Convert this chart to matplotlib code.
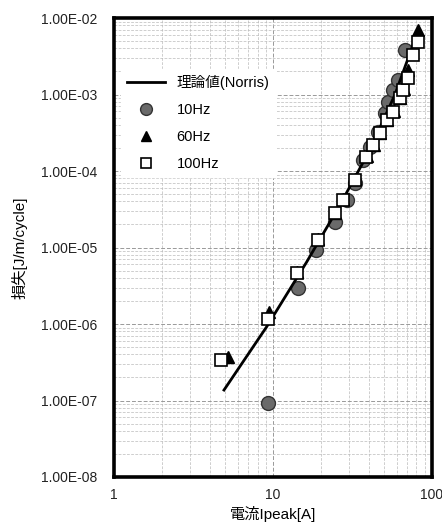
import matplotlib.pyplot as plt
import matplotlib.ticker as ticker

# DATA ##########################################

# theory line (Norris)
norris_i = [4.92, 9.13, 16.3, 26.4, 40.7, 58.5, 78.2]
norris_q = [1.37e-7, 9.2e-7, 6.46e-6, 3.6e-5, 1.88e-4, 9.9e-4, 5.2e-3]

# 10Hz
i_10 = [9.27, 14.3, 18.8, 24.5, 29.1, 32.8, 37.0, 40.7, 45.9, 50.6, 53.1, 57.1, 61.4, 67.6]
q_10 = [9.35e-8, 2.93e-6, 9.3e-6, 2.17e-5, 4.18e-5, 6.9e-5, 1.39e-4, 2.08e-4,
        3.26e-4, 5.68e-4, 8.05e-4, 1.15e-3, 1.55e-3, 3.82e-3]

# 60Hz
i_60 = [5.24, 9.5, 14.2, 19.2, 24.6, 27.8, 33.0, 39.0, 43.0, 47.4, 52.2, 57.5, 63.3, 66.4, 71.0, 82.0]
q_60 = [3.7e-7, 1.45e-6, 4.8e-6, 1.28e-5, 2.85e-5, 4.25e-5, 7.8e-5, 1.56e-4,
        2.2e-4, 3.15e-4, 4.7e-4, 6.0e-4, 9.0e-4, 1.17e-3, 2.09e-3, 6.97e-3]

# 100Hz
i_100 = [4.71, 9.27, 14.1, 19.3, 24.5, 27.7, 32.8, 38.8, 42.7, 47.1, 51.9, 57.1,
         62.9, 66.0, 71.0, 76.3, 82.0]
q_100 = [3.39e-7, 1.15e-6, 4.67e-6, 1.25e-5, 2.8e-5, 4.18e-5, 7.6e-5, 1.54e-4,
         2.19e-4, 3.11e-4, 4.64e-4, 5.96e-4, 8.9e-4, 1.15e-3, 1.63e-3, 3.28e-3, 4.9e-3]

y_ticks = [1e-8, 1e-7, 1e-6, 1e-5, 1e-4, 1e-3, 1e-2]
x_ticks = [1, 10, 100]

# SETUP #########################################

plt.rcParams.update({
    'font.family': ['Liberation Sans', 'Noto Sans CJK JP', 'DejaVu Sans'],
    'font.size': 10,
})

fig = plt.figure(figsize=(4.42, 5.30), dpi=100)
ax = fig.add_axes([0.258, 0.100, 0.719, 0.866])

ax.set_xscale('log')
ax.set_yscale('log')
ax.set_xlim(1, 100)
ax.set_ylim(1e-8, 1e-2)

# TICKS AND LABELS ###########

ax.xaxis.set_major_locator(ticker.FixedLocator(x_ticks))
ax.xaxis.set_major_formatter(ticker.FixedFormatter([str(v) for v in x_ticks]))
ax.xaxis.set_minor_locator(ticker.LogLocator(base=10, subs=range(2, 10), numticks=20))
ax.xaxis.set_minor_formatter(ticker.NullFormatter())

ax.yaxis.set_major_locator(ticker.FixedLocator(y_ticks))
ax.yaxis.set_major_formatter(ticker.FixedFormatter(
    ['%.2E' % v for v in y_ticks]))
ax.yaxis.set_minor_locator(ticker.LogLocator(base=10, subs=range(2, 10), numticks=20))
ax.yaxis.set_minor_formatter(ticker.NullFormatter())

ax.tick_params(which='both', length=0, labelsize=10, colors='#222222')
ax.tick_params(axis='x', pad=8)
ax.tick_params(axis='y', pad=12)

for s in ax.spines.values():
    s.set_linewidth(2.6)
    s.set_color('black')

# GRIDS ######################

ax.grid(which='major', linestyle=(0, (4, 2)), linewidth=0.7, color='#999999')
ax.grid(which='minor', linestyle=(0, (4, 2)), linewidth=0.5, color='#bbbbbb')
ax.set_axisbelow(True)

ax.set_ylabel('損失[J/m/cycle]', fontsize=11, labelpad=10)
ax.set_xlabel('電流Ipeak[A]', fontsize=11, labelpad=3)

# PLOTTING ###################

c10, = ax.plot(i_10, q_10, linestyle='none', marker='o', markersize=10,
               markerfacecolor='#6a6a6a', markeredgecolor='#333333',
               markeredgewidth=1, zorder=3)
ln, = ax.plot(norris_i, norris_q, color='black', linewidth=2.0, zorder=4)
t60, = ax.plot(i_60, q_60, linestyle='none', marker='^', markersize=8,
               markerfacecolor='black', markeredgecolor='black', zorder=5)
s100, = ax.plot(i_100, q_100, linestyle='none', marker='s', markersize=9,
                markerfacecolor='white', markeredgecolor='black',
                markeredgewidth=1.2, zorder=6)

# LEGEND ####################

leg = ax.legend([ln, c10, t60, s100],
                ['理論値(Norris)', '10Hz', '60Hz', '100Hz'],
                loc='upper left', bbox_to_anchor=(0.0, 0.905),
                frameon=True, fancybox=False, edgecolor='white',
                framealpha=1, fontsize=10.5, handlelength=2.6,
                handletextpad=0.8, labelspacing=0.9, borderpad=0.4,
                markerscale=0.85)
leg.set_zorder(2.5)

fig.savefig('out.png', dpi=100)
